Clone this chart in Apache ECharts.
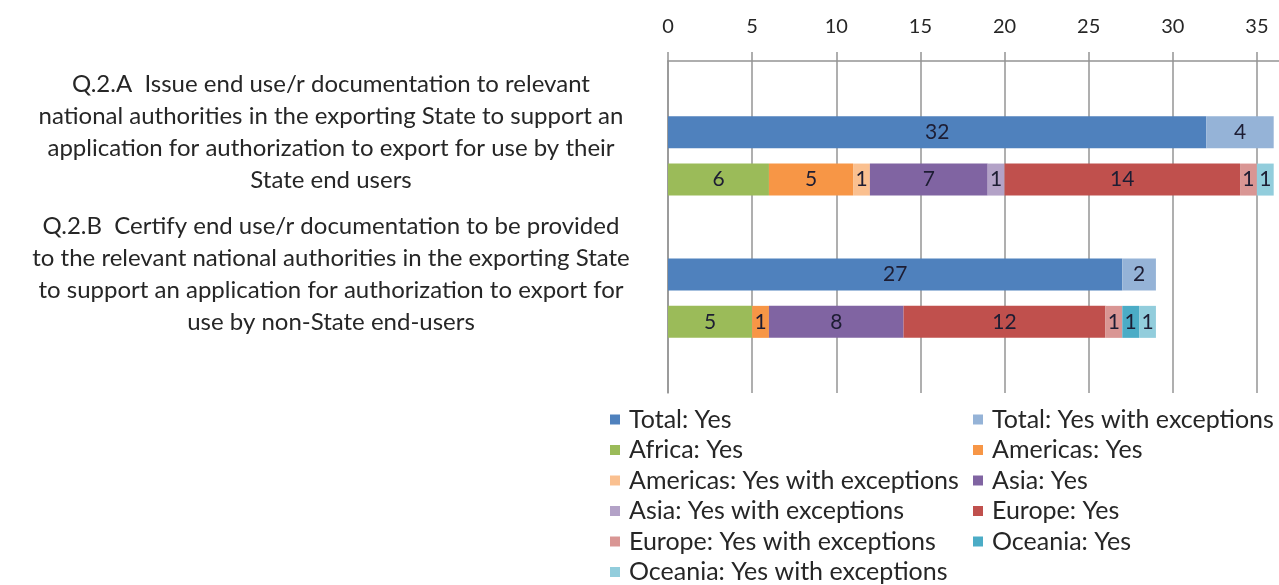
<!DOCTYPE html>
<html>
<head>
<meta charset="utf-8">
<script src="https://cdn.jsdelivr.net/npm/echarts@6/dist/echarts.min.js"></script>
<style>
  html, body { margin: 0; padding: 0; background: #fff; }
  #chart { width: 1279px; height: 585px; }
</style>
</head>
<body>
<div id="chart"></div>
<script>
// rows: blank, Q.2.A totals, Q.2.A regions, blank, Q.2.B totals, Q.2.B regions, blank
const categories = [
  ' ',
  'Q.2.A  Issue end use/r documentation to relevant\nnational authorities in the exporting State to support an\napplication for authorization to export for use by their\nState end users',
  '  ',
  '   ',
  'Q.2.B  Certify end use/r documentation to be provided\nto the relevant national authorities in the exporting State\nto support an application for authorization to export for\nuse by non-State end-users',
  '    ',
  '     '
];

const seriesNames = [
  'Total: Yes', 'Total: Yes with exceptions',
  'Africa: Yes', 'Americas: Yes',
  'Americas: Yes with exceptions', 'Asia: Yes',
  'Asia: Yes with exceptions', 'Europe: Yes',
  'Europe: Yes with exceptions', 'Oceania: Yes',
  'Oceania: Yes with exceptions'
];

const totalYes        = [null, 32, null, null, 27, null, null];
const totalYesExc     = [null, 4, null, null, 2, null, null];
const africaYes       = [null, null, 6, null, null, 5, null];
const americasYes     = [null, null, 5, null, null, 1, null];
const americasYesExc  = [null, null, 1, null, null, null, null];
const asiaYes         = [null, null, 7, null, null, 8, null];
const asiaYesExc      = [null, null, 1, null, null, null, null];
const europeYes       = [null, null, 14, null, null, 12, null];
const europeYesExc    = [null, null, 1, null, null, 1, null];
const oceaniaYes      = [null, null, null, null, null, 1, null];
const oceaniaYesExc   = [null, null, 1, null, null, 1, null];

const xTicks = [0, 5, 10, 15, 20, 25, 30, 35];

const colors = ['#4f81bd', '#95b3d7', '#9bbb59', '#f79646', '#fac090', '#8064a2',
                '#b3a2c7', '#c0504d', '#d99694', '#4bacc6', '#92cddc'];

const values = [totalYes, totalYesExc, africaYes, americasYes, americasYesExc, asiaYes,
                asiaYesExc, europeYes, europeYesExc, oceaniaYes, oceaniaYesExc];

const chart = echarts.init(document.getElementById('chart'));
const font = 'Lato';
const textColor = '#262626';
const lineColor = '#949494';

const series = seriesNames.map((name, i) => ({
  name: name,
  type: 'bar',
  stack: 'all',
  barWidth: 32,
  data: values[i],
  itemStyle: { color: colors[i] },
  label: {
    show: true,
    position: 'inside',
    color: '#1d1d33',
    fontFamily: font,
    fontSize: 21
  }
}));

const legendStyle = {
  orient: 'vertical',
  top: 402,
  height: 220,
  itemWidth: 10,
  itemHeight: 10,
  itemGap: 5.5,
  icon: 'rect',
  textStyle: { color: textColor, fontFamily: font, fontSize: 25, lineHeight: 24, padding: [0, 0, 0, 4] }
};

chart.setOption({
  backgroundColor: '#fff',
  animation: false,
  color: colors,
  grid: {
    left: 668,
    top: 61,
    width: 673,
    height: 332,
    outerBoundsMode: 'none'
  },
  xAxis: {
    type: 'value',
    position: 'top',
    min: 0,
    max: 40,
    interval: 5,
    axisLine: { show: true, lineStyle: { color: lineColor, width: 1.5 } },
    axisTick: { show: true, length: 9, lineStyle: { color: lineColor, width: 1.5 } },
    splitLine: { show: true, lineStyle: { color: lineColor, width: 1.5 } },
    axisLabel: {
      color: textColor,
      fontFamily: font,
      fontSize: 20,
      margin: 24,
      showMaxLabel: false,
      formatter: v => (xTicks.indexOf(v) >= 0 ? String(v) : '')
    }
  },
  yAxis: {
    type: 'category',
    inverse: true,
    data: categories,
    axisLine: { show: true, lineStyle: { color: lineColor, width: 1.5 } },
    axisTick: { show: false },
    axisLabel: {
      color: textColor,
      fontFamily: font,
      fontSize: 24,
      lineHeight: 32,
      align: 'center',
      margin: 337,
      interval: 0
    }
  },
  legend: [
    Object.assign({}, legendStyle, {
      left: 605,
      data: seriesNames.filter((n, i) => i % 2 === 0)
    }),
    Object.assign({}, legendStyle, {
      left: 968,
      data: seriesNames.filter((n, i) => i % 2 === 1)
    })
  ],
  series: series
});
</script>
</body>
</html>
